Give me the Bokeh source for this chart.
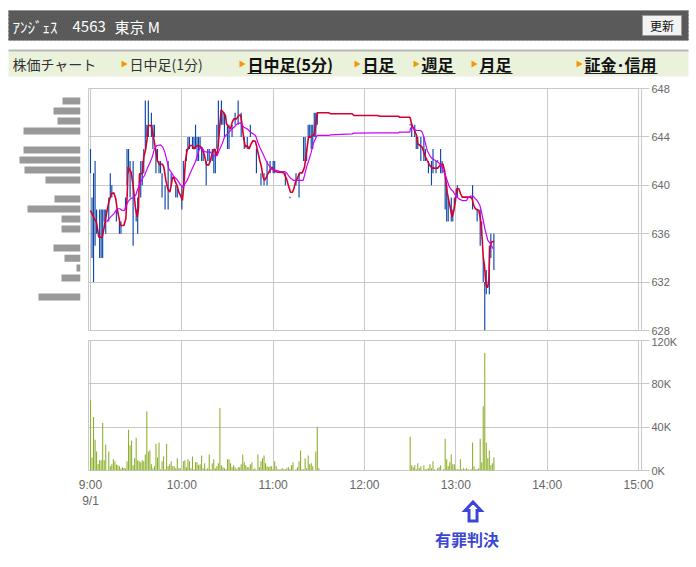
import math
from bokeh.plotting import figure
from bokeh.layouts import column, row
from bokeh.models import Range1d, FixedTicker, Grid
from bokeh.core.properties import value
from bokeh.embed import file_html
from bokeh.resources import INLINE

JP = "Noto Sans CJK JP"
AX = "Liberation Sans"
GRID = "#c8c8c8"
LABEL = "#666666"

# ---------------- quote header / menu ----------------
stock_name = "ｱﾝｼﾞｪｽ"
stock_code = "4563"
market = "東京 M"
refresh_label = "更新"
tab_labels = ["株価チャート", "日中足(1分)", "日中足(5分)", "日足", "週足", "月足", "証金･信用"]
tab_is_link = [False, False, True, True, True, True, True]

# ---------------- time axis (minutes after 9:00) ----------------
hour_ticks = [0, 60, 120, 180, 240, 300, 360]
hour_labels = ["9:00\n9/1", "10:00", "11:00", "12:00", "13:00", "14:00", "15:00"]
price_ticks = [628, 632, 636, 640, 644, 648]
volume_ticks = [0, 40, 80, 120]
volume_tick_labels = ["0K", "40K", "80K", "120K"]

# ---------------- 1-minute high/low bars ----------------
bar_minute = [0, 1, 2, 3, 4, 6, 7, 8, 9, 10, 12, 13, 14, 17, 19, 20, 23, 24, 25, 26,
              28, 30, 31, 33, 34, 35, 36, 37, 38, 40, 41, 42, 43, 44, 45, 46, 47, 49, 51, 53,
              56, 57, 60, 61, 63, 64, 65, 67, 68, 69, 70, 71, 72, 73, 74, 76, 77, 78, 80, 81,
              82, 83, 84, 86, 87, 88, 90, 91, 93, 95, 97, 99, 101, 103, 105, 109, 112, 114, 116, 118,
              120, 121, 128, 131, 135, 137, 140, 141, 142, 143, 144, 145, 146, 147, 148, 149,
              210, 211, 213, 214, 215, 217, 219, 220, 222, 224, 225, 227, 228, 230, 231, 233,
              234, 235, 237, 238, 239, 241, 251, 254, 256, 257, 258, 259, 260, 262, 263, 265]
bar_high = [643, 639, 641, 642, 638, 638, 638, 638, 638, 638, 639, 641, 640, 638, 637, 637, 639, 643, 643, 642,
            642, 638, 639, 642, 642, 643, 647, 645, 647, 646, 645, 645, 643, 643, 642, 642, 641, 640, 642, 641,
            640, 640, 640, 642, 643, 644, 644, 644, 644, 645, 644, 644, 644, 643, 643, 642, 643, 643, 643, 643,
            643, 645, 647, 647, 646, 646, 645, 645, 645, 646, 647, 646, 644, 644, 645, 643, 641, 641, 642, 642,
            642, 642, 641, 639, 641, 641, 644, 644, 643, 645, 645, 645, 645, 646, 646, 646,
            645, 645, 645, 644, 644, 644, 644, 643, 642, 642, 643, 642, 642, 643, 642, 641,
            640, 639, 639, 638, 639, 640, 640, 638, 638, 637, 634, 632, 633, 635, 636, 636]
bar_low = [641, 634, 632, 635, 636, 634, 634, 634, 637, 636, 637, 639, 639, 637, 636, 636, 638, 640, 641, 639,
           635, 637, 636, 639, 640, 641, 643, 644, 644, 644, 643, 644, 641, 642, 641, 641, 639, 638, 638, 640,
           639, 639, 638, 640, 642, 643, 643, 643, 643, 643, 642, 642, 643, 642, 642, 640, 642, 642, 642, 641,
           641, 643, 644, 645, 645, 644, 643, 643, 644, 645, 645, 644, 643, 643, 644, 641, 640, 640, 640, 641,
           641, 641, 640, 639, 640, 639, 642, 642, 642, 644, 644, 643, 643, 644, 644, 645,
           645, 644, 644, 643, 643, 642, 642, 642, 641, 640, 641, 641, 642, 641, 641, 638,
           637, 637, 637, 637, 638, 639, 638, 637, 635, 636, 632, 628, 631, 631, 634, 633]

# ---------------- short moving average (red) ----------------
short_ma_minute = [0, 2.6, 3.9, 5.5, 7.7, 8.8, 10.5, 12.0, 13.8, 15.3, 16.6, 17.5, 18.6, 19.7, 21.9, 23.2, 24.1, 24.7, 26.7, 28.0,
                   29.6, 30.7, 31.5, 32.2, 34.0, 35.0, 36.3, 37.2, 37.9, 39.9, 41.2, 42.7, 43.8, 45.5, 47.1, 48.2, 49.5, 50.8, 52.1, 53.0,
                   53.9, 54.7, 55.8, 56.9, 58.0, 59.1, 60.4, 61.3, 62.4, 63.5, 65.3, 66.8, 67.9, 70.1, 71.8, 73.4, 74.9, 76.2, 77.7, 78.8,
                   80.1, 81.5, 82.8, 83.7, 84.5, 85.8, 87.2, 88.7, 89.3, 90.9, 92.0, 93.1, 94.2, 95.9, 97.5, 98.5,
                   99.2, 100.7, 101.8, 102.9, 104.2, 105.5, 106.9, 108.4, 109.5, 111.2, 112.1, 113.4, 114.3, 115.6, 116.5, 117.8, 119.3, 120.4, 122.6, 124.8,
                   127.0, 128.8, 130.3, 131.4, 132.7, 133.6, 134.7, 136.2, 137.5, 139.1, 140.6, 141.9, 143.2, 144.5, 145.8, 146.7, 147.8, 148.9, 156.6, 157.7,
                   171.9, 173.0, 188.3, 190.5,
                   202.6, 202.7, 209.8, 210.2, 210.9, 211.8, 212.4, 214.2, 215.0, 216.4, 217.9, 219.0, 220.1, 221.2, 222.9, 224.5, 228.2, 229.9, 231.5, 232.6,
                   233.2, 234.3, 235.4, 236.5, 237.6, 238.7, 239.8, 240.5, 242.0, 243.1, 244.2, 249.6, 250.7, 251.8, 252.9, 255.1, 256.2, 257.3, 258.0, 258.8,
                   259.5, 260.2, 261.0, 261.7, 262.3, 263.2, 264.5, 265.0]
short_ma_price = [637.92, 637.23, 636.95, 635.71, 635.71, 636.40, 637.64, 638.61, 639.30, 639.38, 638.88, 638.06, 637.37, 636.68, 636.68, 637.23, 639.16, 641.50, 641.09, 639.98,
                  638.06, 637.37, 638.06, 640.95, 640.95, 642.32, 643.01, 643.84, 644.94, 644.94, 644.12, 643.01, 642.05, 641.69, 641.77, 641.50, 640.40, 639.71, 639.43, 639.98,
                  640.67, 640.67, 640.26, 639.98, 639.43, 639.16, 638.74, 639.98, 642.05, 642.88, 643.29, 643.29, 643.01, 643.29, 643.23, 643.07, 642.46, 641.69, 641.69, 642.05,
                  642.74, 643.01, 642.46, 643.01, 644.25, 646.24, 646.04, 645.77, 645.08, 644.80, 644.67, 645.22, 645.49, 645.49, 645.77, 645.82,
                  645.36, 643.84, 643.15, 643.29, 643.01, 643.43, 643.70, 643.62, 643.01, 642.05, 641.64, 640.67, 640.40, 640.67, 640.95, 641.22, 641.50, 641.22, 641.09, 641.09,
                  641.03, 640.53, 639.85, 639.43, 639.43, 639.71, 640.26, 640.67, 641.03, 641.03, 641.50, 642.74, 643.98, 643.98, 644.12, 644.12, 644.80, 645.99, 645.99, 645.91,
                  645.91, 645.77, 645.77, 645.71,
                  645.71, 645.63, 645.63, 645.49, 645.08, 644.80, 644.67, 644.12, 643.43, 643.29, 643.15, 642.74, 642.32, 642.05, 641.64, 641.42, 641.42, 641.69, 641.77, 641.22,
                  640.67, 639.43, 638.74, 638.06, 637.37, 637.92, 638.74, 639.71, 639.71, 639.30, 639.02, 639.02, 638.88, 638.33, 638.06, 637.92, 637.23, 635.58, 634.06, 633.37,
                  632.27, 631.58, 631.58, 632.27, 634.75, 635.30, 635.36, 635.30]

# ---------------- long moving average (magenta) ----------------
long_ma_minute = [10.5, 12.0, 13.1, 15.3, 17.5, 19.3, 20.8, 22.3, 23.6, 25.2, 26.7, 28.0, 29.6, 30.7, 32.4, 34.0, 35.5, 37.2, 39.0, 40.5,
                  42.0, 43.8, 46.0, 47.5, 48.8, 49.9, 51.5, 53.0, 54.7, 56.5, 58.0, 59.1, 60.9, 62.0, 63.5, 65.3, 66.8, 69.0, 70.5, 71.8,
                  73.4, 74.9, 76.6, 78.8, 80.6, 82.1, 83.2, 85.0, 86.5, 88.0, 89.8, 92.0, 94.2, 96.4, 98.5,
                  100.7, 102.9, 105.1, 106.9, 108.4, 109.9, 111.2, 112.8, 114.3, 115.6, 117.2, 118.7, 120.4, 122.6, 124.8, 127.5, 128.8, 130.3, 131.4, 133.6,
                  139.7, 140.6, 141.9, 143.4, 145.0, 146.3, 147.8, 148.9, 156.6, 157.7, 171.9, 173.0, 188.3, 190.5,
                  202.6, 202.7, 209.8, 210.2, 211.3, 212.4, 214.2, 216.8, 217.9, 219.0, 220.1, 221.2, 222.9, 224.5, 226.6, 228.8, 230.4, 231.7, 233.2, 234.3,
                  235.4, 236.5, 238.3, 239.8, 242.0, 244.2, 247.0, 247.9, 249.6, 251.4, 252.9, 254.0, 255.8, 256.9, 258.0, 259.1, 260.2, 261.0, 262.8, 264.5]
long_ma_price = [636.95, 637.23, 637.37, 637.64, 638.06, 638.06, 637.92, 637.92, 638.39, 638.74, 638.94, 638.94, 639.16, 639.57, 640.12, 640.53, 640.81, 641.36, 641.86, 642.32,
                 643.01, 643.29, 643.34, 643.15, 642.74, 642.19, 641.36, 641.09, 640.73, 640.53, 640.26, 640.04, 639.85, 640.12, 640.40, 640.95, 641.36, 641.97, 642.60, 643.07,
                 643.01, 642.79, 642.74, 642.74, 642.46, 642.41, 642.46, 643.01, 643.43, 643.98, 644.25, 644.53, 644.80, 645.08, 645.16,
                 644.80, 644.67, 644.39, 644.25, 644.12, 643.56, 643.15, 642.74, 642.32, 641.97, 641.64, 641.36, 641.28, 641.22, 641.14, 641.14, 641.03, 640.75, 640.59, 640.40,
                 640.40, 640.81, 641.50, 642.05, 642.74, 643.43, 643.84, 644.12, 644.12, 644.17, 644.25, 644.31, 644.34, 644.34,
                 644.34, 644.39, 644.39, 644.72, 644.80, 644.67, 644.53, 644.53, 644.39, 643.98, 643.43, 642.88, 642.46, 642.19, 642.05, 641.86, 641.64, 641.22, 640.81, 640.40,
                 639.98, 639.71, 639.49, 639.16, 638.88, 638.74, 638.74, 638.94, 639.10, 639.10, 638.88, 638.74, 638.33, 637.78, 637.09, 636.40, 635.85, 635.44, 635.16, 634.75]

# ---------------- volume per minute (thousand shares) ----------------
am_start, am_end = 0, 150      # 9:00 - 11:30
pm_start, pm_end = 210, 265    # 12:30 - 13:25
am_volume = [64.8, 12.1, 49.4, 28.5, 17.6, 6.1, 9.4, 9.4, 43.9, 9.4, 23.9,
             0,
             17.6, 3.9, 5.8, 10.3, 8.5, 5.5, 4.8, 3.9, 1.8, 3.0, 2.4, 1.8, 8.5, 37.6, 23.0, 27.6, 4.8, 11.2, 30.3, 9.4,
             8.5, 7.6, 9.4, 8.5, 14.8, 54.8, 17.6, 18.5, 5.8, 2.1, 3.9, 24.8, 12.1, 25.8, 1.2, 8.5, 13.0, 1.2, 24.8, 3.9,
             5.8, 8.5, 3.9, 3.9, 2.1, 11.2, 2.1, 2.1,
             0,
             8.5, 9.4, 3.0, 10.3, 8.5, 2.1, 13.0, 1.2, 7.6, 7.6, 4.8, 5.8, 13.9, 2.1, 6.7, 1.2, 2.1, 14.8, 1.2, 6.7,
             10.3, 2.1, 3.9, 6.7, 57.6, 4.8, 3.0, 2.1, 1.2, 10.3, 10.3, 6.7, 3.0, 4.8, 3.0, 1.2, 3.0, 3.0, 5.8, 14.8,
             7.6, 4.8, 3.0, 3.0, 5.8, 7.6, 1.2, 2.1,
             0,
             14.8, 3.0, 8.5, 11.2, 13.9, 6.7, 3.9, 3.0, 3.9, 3.9, 1.2, 8.5, 3.9, 1.2, 1.2, 1.2, 2.1, 1.2, 1.2, 2.1,
             3.0, 1.2, 4.8, 7.6,
             0,
             1.2, 3.0, 8.5, 18.5, 1.2, 1.2, 11.2, 2.1, 13.9, 5.8, 6.7, 3.9,
             0,
             17.6, 40.3, 2.1]
pm_volume = [31.2, 4.8, 3.0, 4.8, 1.2, 6.7, 2.1, 3.9, 0, 4.8,
             1.2, 1.2, 2.1, 5.8, 2.1, 8.5, 1.2, 0, 2.1, 3.0,
             4.8, 0, 1.2, 29.4, 10.3, 3.9, 7.6, 14.8, 5.8, 5.8,
             1.2, 1.2, 1.2, 10.3, 1.2, 2.1, 1.2, 2.1, 1.2, 0,
             1.2, 25.8, 3.9, 1.2, 1.2, 2.1, 29.4, 7.6, 59.4, 108.5,
             25.8, 11.2, 18.5, 4.8, 6.7, 12.1]

# ---------------- volume-at-price profile ----------------
profile_price = [646.97, 646.14, 645.31, 644.49, 642.92, 642.09, 641.26, 640.44, 638.87,
                 638.04, 637.21, 636.39, 634.82, 633.98, 633.16, 632.33, 630.77]
profile_volume = [18, 27, 23, 57, 57, 61, 56, 35, 26, 53, 19, 19, 27, 16, 4, 19, 42]

# ---------------- event marker ----------------
event_minute = 251.3
event_label = "有罪判決"

PX_PER_MIN = 548 / 360.0


def chrome(h):
    f = figure(width=696, height=h, x_range=Range1d(0, 696), y_range=Range1d(h, 0),
               x_axis_type=None, y_axis_type=None, toolbar_location=None,
               output_backend="svg", min_border=0, frame_align=False)
    f.outline_line_color = None
    return f


# ---- header strip ----
head = chrome(48)
head.quad(left=8, right=688, top=10, bottom=40, fill_color="#555555", line_color=None,
          hatch_pattern="right_diagonal_line", hatch_color="#5f5f5f", hatch_scale=4, hatch_weight=1)
for x, s in [(12, stock_name), (72, stock_code), (114, market)]:
    head.text(x=[x], y=[25.5], text=[s], text_font=value(JP), text_font_size="15px",
              text_color="#ffffff", text_baseline="middle")
head.quad(left=642, right=681, top=15, bottom=35, fill_color="#f3f3f3", line_color="#9a9a9a")
head.text(x=[661.5], y=[25], text=[refresh_label], text_font=value(JP), text_font_size="12px",
          text_color="#111111", text_align="center", text_baseline="middle")

# ---- menu strip ----
tabs = chrome(32)
tabs.quad(left=8, right=688, top=2, bottom=28, fill_color="#eaf2dc", line_color=None)
tabs.segment(x0=8, y0=2, x1=688, y1=2, line_color="#b8b8b8", line_width=2)
tab_x = [12, 129, 247, 362, 421, 479, 584]
tab_w = [0, 0, 84, 34, 34, 33, 73]
for i, lab in enumerate(tab_labels):
    link = tab_is_link[i]
    tabs.text(x=[tab_x[i]], y=[15.5], text=[lab], text_font=value(JP),
              text_font_size="16px" if link else "14px",
              text_font_style="bold" if link else "normal",
              text_color="#111111" if link else "#333333", text_baseline="middle")
    if i > 0:
        tabs.scatter(x=[tab_x[i] - 6], y=[15.5], marker="triangle", size=7, angle=-math.pi / 2,
                     fill_color="#f39800", line_color=None)
    if link:
        tabs.segment(x0=tab_x[i], y0=25, x1=tab_x[i] + tab_w[i], y1=25,
                     line_color="#222222", line_width=1)

# ---- shared time scale ----
t_range = Range1d(-2 / PX_PER_MIN, 360 + 3 / PX_PER_MIN)

# ---- volume-at-price profile ----
prof = figure(width=84, height=255, x_range=Range1d(80, 0), y_range=Range1d(628, 648),
              x_axis_type=None, y_axis_type=None, toolbar_location=None, output_backend="svg",
              min_border_left=0, min_border_right=4, min_border_top=8, min_border_bottom=5,
              frame_align=False)
prof.outline_line_color = None
prof.hbar(y=profile_price, height=0.58, left=0, right=profile_volume,
          fill_color="#999999", line_color=None)

# ---- price chart ----
price = figure(width=612, height=255, x_range=t_range, y_range=Range1d(628, 648),
               x_axis_type=None, y_axis_location="right", toolbar_location=None,
               output_backend="svg", min_border_left=4, min_border_right=55,
               min_border_top=8, min_border_bottom=5, frame_align=False)
price.outline_line_color = GRID
price.add_layout(Grid(dimension=0, ticker=FixedTicker(ticks=hour_ticks), grid_line_color=GRID))
price.ygrid.ticker = FixedTicker(ticks=price_ticks)
price.ygrid.grid_line_color = GRID
ya = price.yaxis[0]
ya.ticker = FixedTicker(ticks=price_ticks)
ya.axis_line_color = None
ya.major_tick_out = 8
ya.major_tick_in = 0
ya.minor_tick_out = 0
ya.minor_tick_in = 0
ya.major_tick_line_color = GRID
ya.major_label_standoff = 2
ya.major_label_text_font = AX
ya.major_label_text_font_size = "11px"
ya.major_label_text_color = LABEL

price.vbar(x=bar_minute, bottom=bar_low, top=bar_high, width=0.75,
           fill_color="#0a46aa", line_color=None)
flat = [i for i in range(len(bar_minute)) if bar_high[i] == bar_low[i]]
price.rect(x=[bar_minute[i] for i in flat], y=[bar_high[i] for i in flat], width=0.75,
           height=1.5, height_units="screen", fill_color="#0a46aa", line_color=None)
price.line(short_ma_minute, short_ma_price, line_color="#d4002f", line_width=1.6)
price.line(long_ma_minute, long_ma_price, line_color="#cc00ff", line_width=1.2)

# ---- volume chart ----
vol = figure(width=696, height=232, x_range=t_range, y_range=Range1d(0, 120),
             y_axis_location="right", toolbar_location=None, output_backend="svg",
             min_border_left=88, min_border_right=55, min_border_top=5, min_border_bottom=97,
             frame_align=False)
vol.outline_line_color = GRID
vol.xgrid.ticker = FixedTicker(ticks=hour_ticks)
vol.ygrid.ticker = FixedTicker(ticks=volume_ticks)
vol.grid.grid_line_color = GRID
xa = vol.xaxis[0]
xa.ticker = FixedTicker(ticks=hour_ticks)
xa.major_label_overrides = dict(zip(hour_ticks, hour_labels))
xa.axis_line_color = None
xa.major_tick_out = 0
xa.major_tick_in = 0
xa.minor_tick_out = 0
xa.minor_tick_in = 0
xa.major_label_standoff = 7
xa.major_label_text_font = AX
xa.major_label_text_font_size = "12px"
xa.major_label_text_color = LABEL
va = vol.yaxis[0]
va.ticker = FixedTicker(ticks=volume_ticks)
va.major_label_overrides = dict(zip(volume_ticks, volume_tick_labels))
va.axis_line_color = None
va.major_tick_out = 8
va.major_tick_in = 0
va.minor_tick_out = 0
va.minor_tick_in = 0
va.major_tick_line_color = GRID
va.major_label_standoff = 2
va.major_label_text_font = AX
va.major_label_text_font_size = "11px"
va.major_label_text_color = LABEL

am_minutes = list(range(am_start, am_end + 1))
pm_minutes = list(range(pm_start, pm_end + 1))
vol.vbar(x=am_minutes + pm_minutes, top=am_volume + pm_volume, width=0.7,
         fill_color="#8cb02b", line_color=None)

# ---- event marker below the time axis (page pixel rows) ----
vol.extra_y_ranges = {"page": Range1d(470, 340)}
ARROW_DX = [0, 8, 4, 4, -4, -4, -8]
ARROW_Y = [501.5, 510, 510, 520.5, 520.5, 510, 510]
vol.patch(x=[event_minute + dx / PX_PER_MIN for dx in ARROW_DX], y=ARROW_Y, y_range_name="page",
          fill_color=None, line_color="#3b47d3", line_width=3, line_join="miter", level="overlay")
vol.text(x=[event_minute - 6 / PX_PER_MIN], y=[538], text=[event_label], y_range_name="page",
         text_font=value(JP), text_font_style="bold", text_font_size="16px",
         text_color="#3b47d3", text_align="center", text_baseline="middle", level="overlay")

page = column(head, tabs, row(prof, price), vol)
open("out.html", "w").write(file_html(page, INLINE))
